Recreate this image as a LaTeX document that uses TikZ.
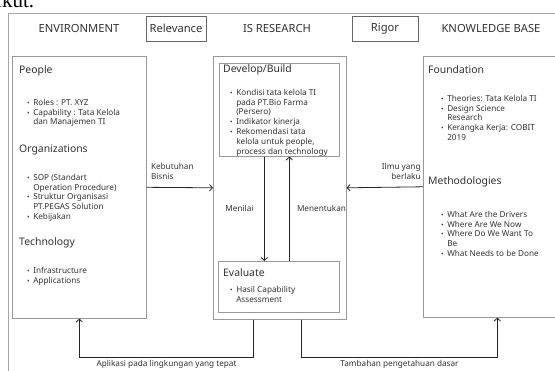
\documentclass[tikz,border=0pt]{standalone}
\usepackage{fontspec}
\setmainfont{Noto Sans}
\newfontfamily\pagefont{Liberation Serif}
\usetikzlibrary{arrows.meta}

\newcommand{\headfont}{\fontsize{10.4}{12}\selectfont}
\newcommand{\titlefont}{\fontsize{11.2}{13}\selectfont}
\newcommand{\itemfont}{\fontsize{8.2}{9.9}\selectfont}
\newcommand{\bl}{{\fontsize{6.8}{9.9}\selectfont\textbullet}}
\newcommand{\blist}[1]{\begin{tabular}{@{}l@{\hspace{3.5pt}}l@{}}#1\end{tabular}}

\begin{document}
\begin{tikzpicture}[x = 1pt, y = -1pt, font = \itemfont, text = black!80,
		box/.style = {draw = black!40, line width = 0.6pt, anchor = north west, inner sep = 0pt},
		head/.style = {anchor = west, inner sep = 0pt, font = \headfont},
		items/.style = {anchor = north west, inner sep = 0pt},
		tag/.style = {draw = black!60, line width = 0.6pt, minimum height = 25pt, inner sep = 0pt, font = \titlefont},
		flow/.style = {draw = black!85, line width = 0.8pt, -{Straight Barb[length = 3pt, width = 6.5pt]}}]
		\useasboundingbox (0, 0) rectangle (555, 370);
		\clip (0, 0) rectangle (555, 370);

		% text of the page above the figure
		\node (pagetext) at (-4, 7) [anchor = base west, inner sep = 0pt, text = black, font = \pagefont\fontsize{21}{21}\selectfont] {ikut.};

		% outer frame
		\node (frame) at (8, 13) [box, draw = black!35, line width = 1.2pt, minimum width = 560pt, minimum height = 370pt] {};

		% column titles
		\node (envtitle) at (79, 28) [font = \titlefont] {ENVIRONMENT};
		\node (relevance) at (176, 28.5) [tag, minimum width = 60pt] {Relevance};
		\node (istitle) at (277, 28) [font = \titlefont] {IS RESEARCH};
		\node (rigor) at (385, 28.5) [tag, minimum width = 66pt] {Rigor};
		\node (kbtitle) at (491, 28) [font = \titlefont] {KNOWLEDGE BASE};

		% environment
		\node (envbox) at (12, 56) [box, minimum width = 134pt, minimum height = 262pt] {};
		\node (people) at (19, 71) [head] {People};
		\node (peoplelist) at (27, 98) [items] {\blist{\bl & Roles : PT. XYZ\\ \bl & Capability : Tata Kelola\\ & dan Manajemen TI}};
		\node (org) at (19, 150) [head] {Organizations};
		\node (orglist) at (27, 173) [items] {\blist{\bl & SOP (Standart\\ & Operation Procedure)\\ \bl & Struktur Organisasi\\ & PT.PEGAS Solution\\ \bl & Kebijakan}};
		\node (tech) at (19, 243) [head] {Technology};
		\node (techlist) at (27, 266) [items] {\blist{\bl & Infrastructure\\ \bl & Applications}};

		% is research
		\node (isbox) at (213, 56) [box, minimum width = 133pt, minimum height = 263pt] {};
		\node (develop) at (219, 63) [box, minimum width = 120pt, minimum height = 93pt] {};
		\node (devtitle) at (223, 70) [head] {Develop/Build};
		\node (devlist) at (230, 88) [items] {\blist{\bl & Kondisi tata kelola TI\\ & pada PT.Bio Farma\\ & (Persero)\\ \bl & Indikator kinerja\\ \bl & Rekomendasi tata\\ & kelola untuk people,\\ & process dan technology}};
		\node (evaluate) at (218, 261) [box, minimum width = 121pt, minimum height = 51pt] {};
		\node (evaltitle) at (223, 273) [head] {Evaluate};
		\node (evallist) at (230, 285) [items] {\blist{\bl & Hasil Capability\\ & Assessment}};

		% knowledge base
		\node (kbbox) at (423, 56) [box, minimum width = 148pt, minimum height = 261pt] {};
		\node (found) at (428, 70) [head] {Foundation};
		\node (foundlist) at (441, 94) [items] {\blist{\bl & Theories: Tata Kelola TI\\ \bl & Design Science\\ & Research\\ \bl & Kerangka Kerja: COBIT\\ & 2019}};
		\node (method) at (428, 182) [head] {Methodologies};
		\node (methodlist) at (441, 210) [items] {\blist{\bl & What Are the Drivers\\ \bl & Where Are We Now\\ \bl & Where Do We Want To\\ & Be\\ \bl & What Needs to be Done}};

		% flows between the columns
		\draw [flow] (envbox.east) -- (isbox.west) node [pos = 0, anchor = south west, align = left, inner sep = 0pt, xshift = 4pt, yshift = 7pt] {Kebutuhan\\Bisnis};
		\draw [flow] (kbbox.west) -- (isbox.east) node [pos = 0, anchor = south east, align = right, inner sep = 0pt, xshift = -2pt, yshift = 7pt] {Ilmu yang\\berlaku};

		\draw [flow] ([xshift = -15pt] develop.south) -- ([xshift = -15pt] develop.south |- evaluate.north) node [pos = .5, left = 7pt] {Menilai};
		\draw [flow] ([xshift = 10pt] develop.south |- evaluate.north) -- ([xshift = 10pt] develop.south) node [pos = .5, right = 4pt] {Menentukan};

		\draw [flow] ([xshift = -26pt] isbox.south) -- ++(0, 38) -| (envbox.south) node [pos = .25, below = 1pt, inner sep = 1pt] {Aplikasi pada lingkungan yang tepat};
		\draw [flow] ([xshift = 22pt] isbox.south) -- ++(0, 38) -| (kbbox.south) node [pos = .25, below = 1pt, inner sep = 1pt] {Tambahan pengetahuan dasar};
	\end{tikzpicture}
\end{document}
